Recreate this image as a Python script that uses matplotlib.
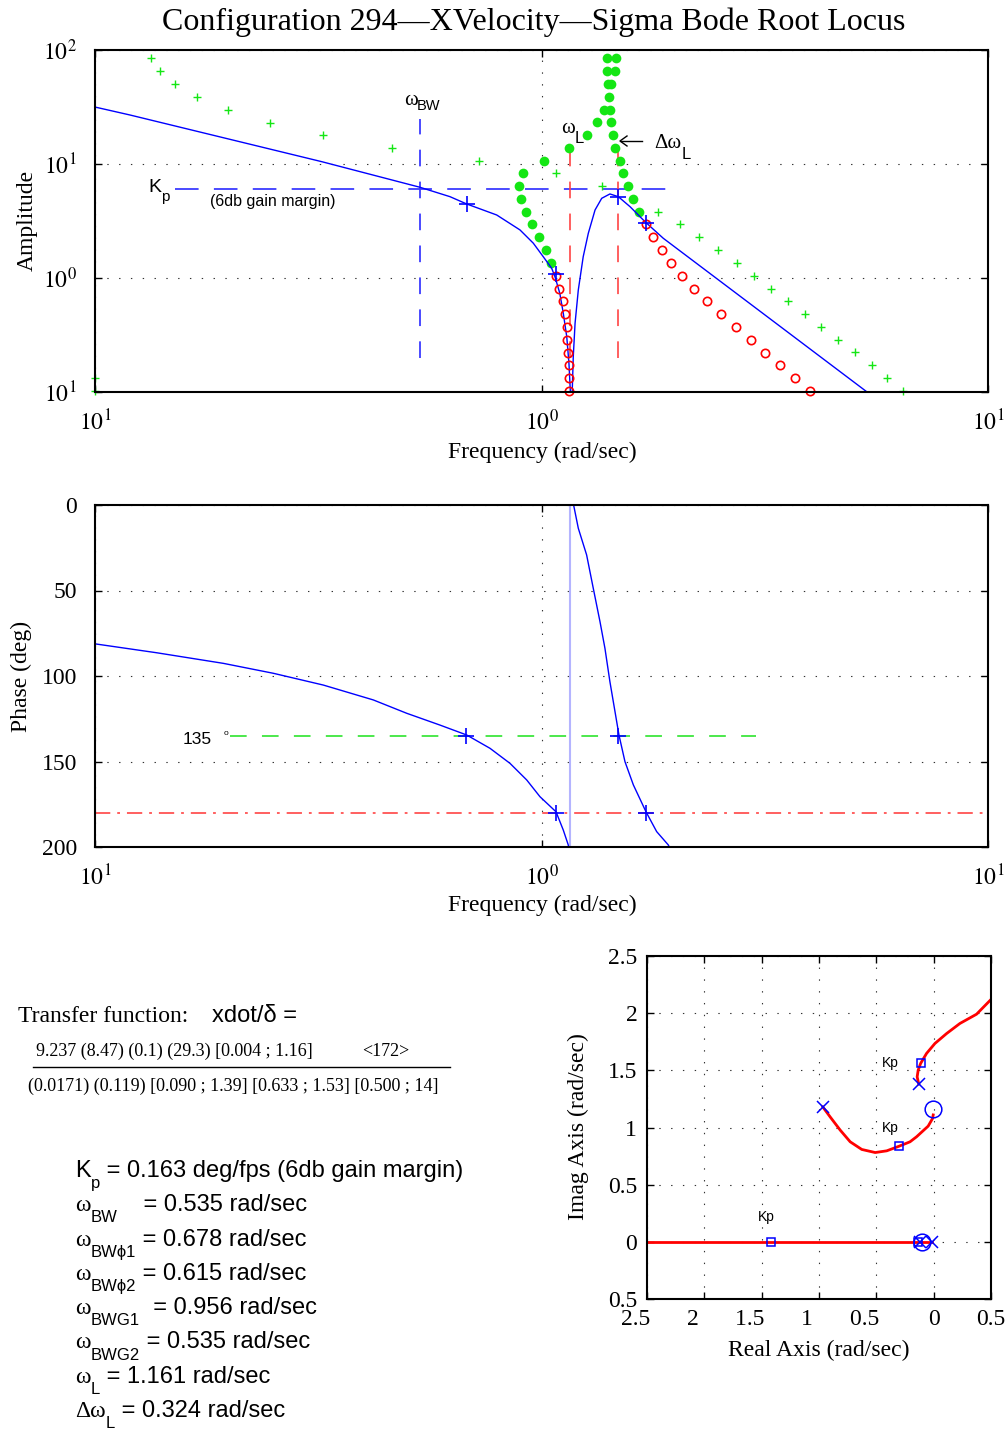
import numpy as np
import matplotlib
matplotlib.use("Agg")
import matplotlib.pyplot as plt
from matplotlib.ticker import NullLocator

plt.rcParams['font.family'] = ['Liberation Serif', 'DejaVu Serif']
plt.rcParams['mathtext.fontset'] = 'stix'
plt.rcParams['lines.scale_dashes'] = False

# === Données ===
# amplitude (courbe bleue)
mag_freq = [0.1, 0.1198, 0.3220, 0.5343, 0.6237, 0.680, 0.7938, 0.8950, 0.9586, 1.009,
            1.054, 1.072, 1.099, 1.119, 1.139, 1.152, 1.160, 1.162, 1.172, 1.178,
            1.189, 1.209, 1.240, 1.273, 1.318, 1.364, 1.423, 1.486, 1.579, 1.705,
            1.874, 3.167, 5.36]
mag_amp = [31.6, 26.9, 10.48, 6.25, 5.17, 4.46, 3.57, 2.64, 2.02, 1.538,
           1.216, 1.026, 0.734, 0.490, 0.306, 0.179, 0.104, 0.02, 0.104, 0.204,
           0.401, 0.785, 1.538, 2.466, 3.95, 5.00, 5.46, 5.17, 4.22, 3.12,
           2.23, 0.4735, 0.1]

# croix vertes
gplus_freq = [0.1, 0.1, 0.1334, 0.1398, 0.1511, 0.1693, 0.1986, 0.2465, 0.324, 0.4627,
              0.7245, 1.078, 1.366, 1.824, 2.043, 2.253, 2.485, 2.741, 2.991, 3.266,
              3.565, 3.892, 4.227, 4.613, 5.036, 5.497, 5.94, 6.45]
gplus_amp = [0.1327, 0.102, 85.1, 65.4, 50.3, 38.7, 29.8, 22.9, 17.96, 13.8,
             10.6, 8.34, 6.41, 3.79, 2.98, 2.29, 1.76, 1.354, 1.04, 0.801,
             0.628, 0.483, 0.372, 0.286, 0.2243, 0.1725, 0.1327, 0.102]

# points verts pleins
gdot_freq = [1.400, 1.469, 1.400, 1.463, 1.406, 1.431, 1.415, 1.380, 1.424, 1.329,
             1.431, 1.262, 1.444, 1.154, 1.463, 1.013, 1.499, 0.910, 1.520, 0.890,
             1.560, 0.898, 1.606, 0.923, 1.656, 0.952, 0.987, 1.023, 1.050]
gdot_amp = [84.6, 84.6, 65.4, 65.4, 50.3, 50.3, 38.9, 29.8, 29.8, 23.2,
            23.2, 17.9, 17.9, 13.9, 13.9, 10.7, 10.7, 8.28, 8.28, 6.41,
            6.41, 4.93, 4.93, 3.82, 3.82, 2.96, 2.27, 1.76, 1.36]

# cercles rouges
rc_freq = [1.711, 1.780, 1.858, 1.947, 2.061, 2.195, 2.351, 2.519, 2.722, 2.941,
           3.167, 3.421, 3.697, 3.995,
           1.078, 1.093, 1.116, 1.131, 1.139, 1.143, 1.147, 1.151, 1.151, 1.154]
rc_amp = [2.96, 2.27, 1.76, 1.36, 1.04, 0.806, 0.625, 0.483, 0.374, 0.286,
          0.2212, 0.1715, 0.1319, 0.1026,
          1.04, 0.806, 0.625, 0.483, 0.374, 0.286, 0.2212, 0.1715, 0.1319, 0.1026]

# repères bleus (+)
amp_mark_freq = [0.680, 1.078, 1.48, 1.714]
amp_mark_amp = [4.46, 1.08, 5.17, 3.04]

# lignes de référence
kp_amp = 6.03
kp_freq_range = [0.151, 1.94]
w_bw = 0.535
w_l = 1.161
w_l2 = 1.485
vline_bw_range = [0.199, 24.8]
vline_l_range = [0.197, 13.7]

# phase
ph1_freq = [0.1, 0.1374, 0.1938, 0.2507, 0.3246, 0.4201, 0.4990, 0.5924, 0.6799, 0.7669,
            0.8502, 0.9266, 0.9922, 1.0777, 1.1189, 1.148, 1.16]
ph1_deg = [-81.2, -86.4, -92.6, -98.4, -105.3, -114.0, -121.8, -128.7, -134.5, -142.3,
           -151.1, -160.8, -170.6, -179.4, -190.1, -198.8, -205]
ph2_freq = [1.176, 1.178, 1.209, 1.262, 1.306, 1.352, 1.387, 1.423, 1.461, 1.491,
            1.538, 1.606, 1.714, 1.811, 1.923, 1.95]
ph2_deg = [3, 1, -13.6, -29.2, -48.7, -68.2, -83.8, -103.3, -120.9, -134.5,
           -150.1, -163.7, -179.4, -191.0, -198.8, -202]
ph_mark_freq = [0.679, 1.48, 1.077, 1.714]
ph_mark_deg = [-135, -135, -180, -180]
ph135_range = [0.201, 3.03]

# lieu des racines
rl1_re = [-0.967, -0.903, -0.815, -0.728, -0.627, -0.510, -0.409, -0.300, -0.206, -0.149,
          -0.048, -0.009, -0.004]
rl1_im = [1.180, 1.093, 0.977, 0.875, 0.808, 0.781, 0.796, 0.837, 0.875, 0.919,
          1.012, 1.080, 1.11]
rl2_re = [-0.13, -0.144, -0.135, -0.114, -0.062, 0.011, 0.113, 0.229, 0.374, 0.5]
rl2_im = [1.38, 1.443, 1.502, 1.560, 1.648, 1.735, 1.822, 1.910, 1.991, 2.12]
rl3_re = [-2.6, -0.0171]
rl3_im = [0.0, 0.0]
pole_re = [-0.967, -0.13, -0.0171, -0.119]
pole_im = [1.18, 1.38, 0.0, 0.0]
zero_re = [-0.0046, -0.1]
zero_im = [1.16, 0.0]
kp_re = [-1.415, -0.300, -0.113, -0.135]
kp_im = [0.0, 0.837, 1.562, 0.0]
rl_xticks = [-2.5, -2, -1.5, -1, -0.5, 0, 0.5]
rl_yticks = [-0.5, 0, 0.5, 1, 1.5, 2, 2.5]

# texte
title = "Configuration 294\u2014XVelocity\u2014Sigma Bode Root Locus"
tf_num = "9.237 (8.47) (0.1) (29.3) [0.004 ; 1.16]"
tf_gain = "<172>"
tf_den = "(0.0171) (0.119) [0.090 ; 1.39] [0.633 ; 1.53] [0.500 ; 14]"
param_main = ["K", "\u03c9", "\u03c9", "\u03c9", "\u03c9", "\u03c9", "\u03c9", "\u0394\u03c9"]
param_sub = ["p", "BW", "BW\u03d51", "BW\u03d52", "BWG1", "BWG2", "L", "L"]
param_values = [" = 0.163 deg/fps (6db gain margin)", "    = 0.535 rad/sec", " = 0.678 rad/sec",
                " = 0.615 rad/sec", "  = 0.956 rad/sec", " = 0.535 rad/sec", " = 1.161 rad/sec",
                " = 0.324 rad/sec"]

# === Figure ===
W, H = 1005, 1429
fig = plt.figure(figsize=(W / 100, H / 100), dpi=100)
SANS = ['Liberation Sans', 'DejaVu Sans']
SERIF = ['Liberation Serif', 'DejaVu Serif']
renderer = fig.canvas.get_renderer()


def ftext(x, y, s, **kw):
    kw.setdefault('va', 'baseline')
    return fig.text(x / W, 1 - y / H, s, **kw)


def width(t):
    return t.get_window_extent(renderer).width


def style(ax, size, pad):
    for sp in ax.spines.values():
        sp.set_linewidth(1.5)
    ax.tick_params(direction='in', length=5, width=1, top=True, right=True,
                   labelsize=size, pad=pad)
    ax.grid(True, color='#333333', linestyle=(0, (1, 7.5)), linewidth=0.8)


# --- amplitude ---
ax1 = fig.add_axes([95 / W, 1 - 392 / H, 893 / W, 342 / H])
ax1.set_xscale('log')
ax1.set_yscale('log')
ax1.set_xlim(0.1, 10)
ax1.set_ylim(0.1, 100)
ax1.plot(kp_freq_range, [kp_amp, kp_amp], color='#3c3cff', lw=1.3, dashes=(17, 11))
ax1.plot([w_bw, w_bw], vline_bw_range, color='#3c3cff', lw=1.3, dashes=(12, 11))
ax1.plot([w_l, w_l], vline_l_range, color='#ff4444', lw=1.2, dashes=(12, 11))
ax1.plot([w_l2, w_l2], vline_l_range, color='#ff4444', lw=1.2, dashes=(12, 11))
ax1.plot(gdot_freq, gdot_amp, 'o', color='#14e614', ms=7, mec='none', clip_on=False)
ax1.plot(gplus_freq, gplus_amp, '+', color='#14e614', ms=6, mew=1, clip_on=False)
ax1.plot(mag_freq, mag_amp, color='blue', lw=1)
ax1.plot(rc_freq, rc_amp, 'o', mfc='none', mec='red', ms=6, mew=1.2, clip_on=False)
ax1.plot(amp_mark_freq, amp_mark_amp, '+', color='blue', ms=11, mew=1.2)
ax1.set_xticks([0.1, 1, 10], labels=[r'$10^{1}$', r'$10^{0}$', r'$10^{1}$'])
ax1.set_yticks([0.1, 1, 10, 100], labels=[r'$10^{1}$', r'$10^{0}$', r'$10^{1}$', r'$10^{2}$'])
ax1.xaxis.set_minor_locator(NullLocator())
ax1.yaxis.set_minor_locator(NullLocator())
style(ax1, 17, 13)

# --- phase ---
ax2 = fig.add_axes([95 / W, 1 - 847 / H, 893 / W, 342 / H])
ax2.set_xscale('log')
ax2.set_xlim(0.1, 10)
ax2.set_ylim(-200, 0)
ax2.axvline(w_l, color='#b4b4ff', lw=1.5)
ax2.plot(ph135_range, [-135, -135], color='#3ee63e', lw=1.3, dashes=(12, 11))
ax2.axhline(-180, color='#ff4444', lw=1.2, dashes=(11, 5, 2, 5))
ax2.plot(ph1_freq, ph1_deg, color='blue', lw=1)
ax2.plot(ph2_freq, ph2_deg, color='blue', lw=1)
ax2.plot(ph_mark_freq, ph_mark_deg, '+', color='blue', ms=11, mew=1.2)
ax2.set_xticks([0.1, 1, 10], labels=[r'$10^{1}$', r'$10^{0}$', r'$10^{1}$'])
ax2.xaxis.set_minor_locator(NullLocator())
ax2.set_yticks([-200, -150, -100, -50, 0], labels=['200', '150', '100', '50', '0'])
style(ax2, 17, 13)

# --- lieu des racines ---
ax3 = fig.add_axes([647 / W, 1 - 1299 / H, 344 / W, 343 / H])
ax3.set_xlim(-2.5, 0.5)
ax3.set_ylim(-0.5, 2.5)
ax3.plot(rl3_re, rl3_im, color='red', lw=2)
ax3.plot(rl1_re, rl1_im, color='red', lw=2)
ax3.plot(rl2_re, rl2_im, color='red', lw=2)
ax3.plot(pole_re, pole_im, 'x', color='blue', ms=9, mew=1.1)
ax3.plot(zero_re, zero_im, 'o', mfc='none', mec='blue', ms=12, mew=1.1)
ax3.plot(kp_re, kp_im, 's', mfc='none', mec='blue', ms=6, mew=1.1)
ax3.set_xticks(rl_xticks, labels=['%g' % abs(t) + ('    ' if t < 0 else '') for t in rl_xticks])
ax3.set_yticks(rl_yticks, labels=['%g' % abs(t) for t in rl_yticks])
style(ax3, 17, 7)

# --- titres et étiquettes ---
ftext(534, 30, title, ha='center', fontsize=23)
fig.text(27 / W, 1 - 220 / H, 'Amplitude', rotation=90, ha='center', va='center', fontsize=17)
fig.text(21 / W, 1 - 676 / H, 'Phase (deg)', rotation=90, ha='center', va='center', fontsize=17)
fig.text(578 / W, 1 - 1127 / H, 'Imag Axis (rad/sec)', rotation=90, ha='center', va='center', fontsize=17)
ftext(542, 458, 'Frequency (rad/sec)', ha='center', fontsize=17)
ftext(542, 911, 'Frequency (rad/sec)', ha='center', fontsize=17)
ftext(819, 1356, 'Real Axis (rad/sec)', ha='center', fontsize=17)

# annotations amplitude
ftext(404, 105, '\u03c9', family=SERIF, fontsize=15)
ftext(417, 110, 'BW', family=SANS, fontsize=10.5)
ftext(148, 192, 'K', family=SANS, fontsize=14)
ftext(161, 201, 'p', family=SANS, fontsize=11)
ftext(210, 206, '(6db gain margin)', family=SANS, fontsize=11.5)
ftext(561, 133, '\u03c9', family=SERIF, fontsize=15)
ftext(575, 143, 'L', family=SANS, fontsize=12)
t = ftext(654, 148, '\u0394\u03c9', family=SERIF, fontsize=15)
ftext(654 + width(t), 159, 'L', family=SANS, fontsize=12)
fig.add_artist(plt.Line2D([621 / W, 642 / W], [1 - 141 / H, 1 - 141 / H], color='k', lw=1))
fig.add_artist(plt.Line2D([627 / W, 620 / W, 627 / W], [1 - 136 / H, 1 - 141 / H, 1 - 146 / H],
                          color='k', lw=1))

# annotations phase
ftext(183, 744, '135', family=SANS, fontsize=12.5)
ftext(224, 735, 'o', family=SANS, fontsize=6)

# annotations lieu des racines
for x, y in [(882, 1067), (882, 1132), (758, 1221)]:
    ftext(x, y, 'Kp', family=SANS, fontsize=10)

# fonction de transfert
ftext(18, 1022, 'Transfer function:', fontsize=17)
ftext(212, 1022, 'xdot/\u03b4 =', family=SANS, fontsize=17)
ftext(36, 1056, tf_num, fontsize=13)
ftext(362, 1056, tf_gain, fontsize=13)
fig.add_artist(plt.Line2D([33 / W, 450 / W], [1 - 1067 / H, 1 - 1067 / H], color='k', lw=1))
ftext(28, 1091, tf_den, fontsize=13)

# paramètres (texte avec indices)
for i, (m, s, v) in enumerate(zip(param_main, param_sub, param_values)):
    yb = 1177 + i * 34.3
    fam = SANS if m == 'K' else SERIF
    t = ftext(75, yb, m, family=fam, fontsize=17)
    x = 75 + width(t)
    t = ftext(x, yb + 11, s, family=SANS, fontsize=12)
    x += width(t)
    ftext(x, yb, v, family=SANS, fontsize=17)

fig.savefig('out.png', dpi=100)
